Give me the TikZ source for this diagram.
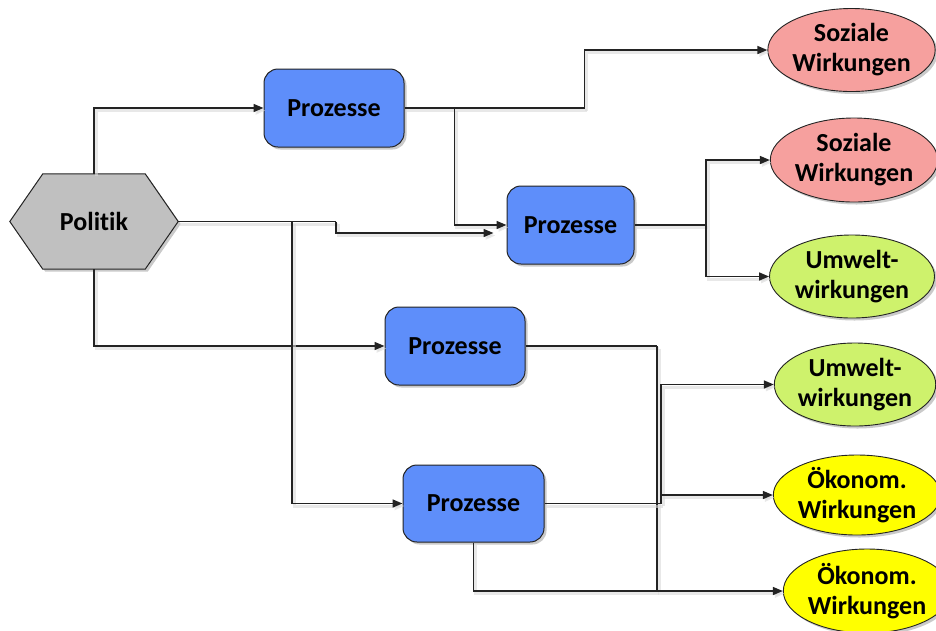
\documentclass[tikz,border=0pt]{standalone}
\usepackage{fontspec}
\setmainfont[RawFeature=-liga]{Carlito}
\usetikzlibrary{arrows.meta,shadows,backgrounds,calc,shapes.geometric}

\definecolor{procblue}{RGB}{94,142,250}
\definecolor{polgray}{RGB}{192,192,192}
\definecolor{socred}{RGB}{246,160,158}
\definecolor{envgreen}{RGB}{206,242,108}
\definecolor{ecoyellow}{RGB}{255,255,0}
\definecolor{edgegray}{RGB}{35,35,35}

\tikzset{
  lbl/.style={font=\bfseries\fontsize{26}{30}\selectfont, align=center, text=black},
  nshadow/.style={drop shadow={opacity=0.35, shadow xshift=2.5pt, shadow yshift=-2.5pt, fill=black!60}},
  procbox/.style={lbl, rectangle, rounded corners=14pt, draw=edgegray, line width=1pt,
    fill=procblue, nshadow},
  effect/.style={lbl, ellipse, draw=edgegray, line width=0.9pt, nshadow, inner sep=0pt},
  social/.style={effect, fill=socred},
  environ/.style={effect, fill=envgreen},
  econ/.style={effect, fill=ecoyellow},
  link/.style={draw=edgegray, line width=1.6pt,
    preaction={draw=black!15, opacity=0.6, line width=3pt,
      transform canvas={shift={(2pt,-2.5pt)}}}},
  arr/.style={link, -{Triangle[length=10pt,width=8pt]}},
}

\begin{document}
\begin{tikzpicture}[x=1pt,y=-1pt]
\useasboundingbox (0,0) rectangle (936,630);

% policy hexagon: the node carries the label, the outline is drawn behind it
\node[lbl, minimum width=168pt, minimum height=95pt, inner sep=0pt] (pol) at (94,221.5) {Politik};
\begin{pgfonlayer}{background}
  \filldraw[fill=polgray, draw=edgegray, line width=1pt, nshadow]
    (pol.west) -- ($(pol.north west)+(33,0)$) -- ($(pol.north east)+(-33,0)$)
    -- (pol.east) -- ($(pol.south east)+(-33,0)$) -- ($(pol.south west)+(33,0)$) -- cycle;
\end{pgfonlayer}

% process boxes
\node[procbox, minimum width=140pt, minimum height=78pt] (p1) at (334,108) {Prozesse};
\node[procbox, minimum width=127pt, minimum height=78pt] (p2) at (570.5,225) {Prozesse};
\node[procbox, minimum width=140pt, minimum height=78pt] (p3) at (455,346) {Prozesse};
\node[procbox, minimum width=141pt, minimum height=77pt] (p4) at (473.5,503.5) {Prozesse};

% effect ellipses
\node[social,  minimum width=167pt, minimum height=83pt] (e1) at (851.5,50)  {Soziale\\Wirkungen};
\node[social,  minimum width=164pt, minimum height=84pt] (e2) at (854,160)   {Soziale\\Wirkungen};
\node[environ, minimum width=165pt, minimum height=83pt] (e3) at (852,276.5) {Umwelt-\\wirkungen};
\node[environ, minimum width=160pt, minimum height=83pt] (e4) at (855,384.5) {Umwelt-\\wirkungen};
\node[econ,    minimum width=160pt, minimum height=80pt] (e5) at (857,495)   {Ökonom.\\Wirkungen};
\node[econ,    minimum width=158pt, minimum height=84pt] (e6) at (867,591)   {Ökonom.\\Wirkungen};

% branching points
\coordinate (jp)  at ($(pol.east)+(114,0)$);
\coordinate (js)  at ($(pol.east)+(158,0)$);
\coordinate (j1)  at ($(p1.east)+(50,0)$);
\coordinate (j1b) at ($(p1.east)+(180,0)$);
\coordinate (j2)  at (706,225);
\coordinate (j3)  at (657,346);
\coordinate (j4)  at (661,503.5);

% connectors from policy
\draw[arr] (pol.north) |- (p1.west);
\draw[arr] (pol.south) |- (p3.west);
\draw[link] (pol.east) -- (js);
\draw[arr, shorten >=13pt] (js) |- ([yshift=-8pt]p2.west);
\draw[arr] (jp) |- (p4.west);

% connectors from the processes
\draw[link] (p1.east) -- (j1b);
\draw[arr] (j1b) |- (e1.west);
\draw[arr] (j1) |- (p2.west);

\draw[link] (p2.east) -- (j2);
\draw[arr] (j2) |- (e2.west);
\draw[arr] (j2) |- (e3.west);

\draw[link] (p3.east) -- (j3);
\draw[arr] (j3) |- (e6.west);

\draw[link] (p4.east) -- (j4);
\draw[arr] (j4) |- (e4.west);
\draw[arr] (j4 |- e5.west) -- (e5.west);
\draw[link] (p4.south) |- (j3 |- e6.west);
\end{tikzpicture}
\end{document}
